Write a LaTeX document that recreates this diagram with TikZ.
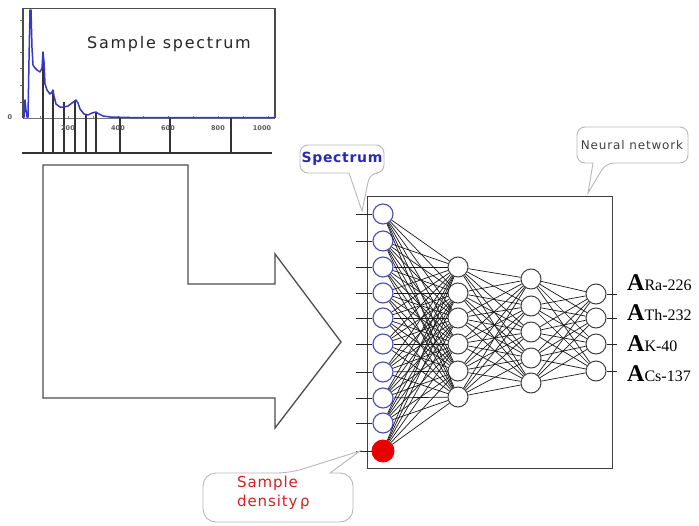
\documentclass[tikz,border=0pt]{standalone}
\usepackage{fontspec}
\setmainfont{DejaVu Sans}
\newfontfamily\lsA[LetterSpace=11]{DejaVu Sans}
\newfontfamily\lsB[LetterSpace=5]{DejaVu Sans}
\newfontfamily\lsC[LetterSpace=7]{DejaVu Sans}
\newfontfamily\lsD[LetterSpace=6]{DejaVu Sans}
\newfontfamily\serifA{Liberation Serif}
\definecolor{inblue}{HTML}{4A4AB8}
\definecolor{specblue}{HTML}{2A2AB0}
\definecolor{curveblue}{HTML}{3838C8}
\definecolor{calloutgray}{HTML}{B8B8B8}
\definecolor{redtext}{HTML}{D42020}
\definecolor{rednode}{HTML}{E80000}
\tikzset{
  inp/.style={circle, draw=inblue, fill=white, minimum size=20pt, inner sep=0pt, line width=1.1pt},
  redn/.style={circle, draw=rednode, fill=rednode, minimum size=22pt, inner sep=0pt, line width=0.9pt},
  hid/.style={circle, draw=black!75, fill=white, minimum size=20pt, inner sep=0pt, line width=1pt},
  conn/.style={draw=black!90, line width=0.7pt},
  stub/.style={draw=black!85, line width=0.9pt},
  callout/.style={draw=calloutgray, fill=white, line width=0.9pt},
  bigarrow/.style={draw=black!70, line width=1.3pt, line join=miter},
  peak/.style={draw=black!80, line width=1.1pt},
  ticklab/.style={font=\fontsize{6.5}{7}\selectfont\bfseries, text=black!65, inner sep=0pt},
  outlab/.style={anchor=base west, inner sep=0pt}
}
\begin{document}
\begin{tikzpicture}[x=1pt,y=-1pt]
\useasboundingbox (0,0) rectangle (699,525);
\fill[white] (0,0) rectangle (699,525);

% ---------- spectrum plot ----------
\draw[black!70, line width=1.1pt] (23,118) -- (23,8.5) -- (275,8.5) -- (275,118);
\draw[black!55, line width=1pt] (23,118) -- (275,118);
\foreach \yy in {20,36,52,68,85,102} \draw[black!60, line width=0.8pt] (19.5,\yy) -- (23,\yy);
\foreach \xx in {40,68,93,118,143,168,193,218,243,268} \draw[black!50, line width=0.6pt] (\xx,118) -- (\xx,115.5);
\foreach \xx/\yy in {43/52,53/90,64/102,75/100,86/115,96/113,120/118,170/118,231/118}
  \draw[peak] (\xx,\yy) -- (\xx,153);
\draw[black!80, line width=1.1pt] (22,153) -- (272,153);
\draw[curveblue, line width=1.5pt, line join=round]
  (23,118) -- (24,117) -- (25,100) -- (26,110) -- (27,117) -- (28,117) -- (29,60) -- (30,10) -- (31,10)
  -- (32,48) -- (33,65) -- (35,68) -- (37,70) -- (40,72) -- (42,68) -- (43,52) -- (44,62) -- (45,84)
  -- (47,90) -- (50,94) -- (52,92) -- (53,90) -- (54,96) -- (56,104) -- (60,107) -- (64,107) -- (68,106)
  -- (72,103) -- (76,100) -- (78,103) -- (80,109) -- (84,114) -- (88,115) -- (92,113) -- (96,112)
  -- (99,114) -- (103,116) -- (110,117) -- (130,117.5) -- (275,117.5);
\node[anchor=base, text=black!85, inner sep=0pt] (spectitle) at (169,48)
  {\lsA\fontsize{16}{19}\selectfont Sample spectrum};
\node[ticklab] (t0) at (10,117) {0};
\node[ticklab] (t200) at (68,128) {200};
\node[ticklab] (t400) at (118,128) {400};
\node[ticklab] (t600) at (168,128) {600};
\node[ticklab] (t800) at (218,128) {800};
\node[ticklab] (t1000) at (262,128) {1000};

% ---------- big arrow ----------
\draw[bigarrow] (43,165) -- (188,165) -- (188,284) -- (275,284) -- (275,254) -- (341,342)
  -- (275,428) -- (275,398) -- (43,398) -- cycle;

% ---------- network box ----------
\node[draw=black!75, line width=1.1pt, minimum width=245pt, minimum height=272pt, inner sep=0pt,
  anchor=north west] (nnbox) at (367,196) {};

% input layer
\foreach \k/\yy in {1/214,2/241,3/267,4/293,5/318,6/344,7/372,8/398,9/423}
  \node[inp] (i\k) at (383,\yy) {};
\node[redn] (i10) at (383,451) {};
% hidden 1
\foreach \k/\yy in {1/267,2/293,3/318,4/344,5/371,6/397}
  \node[hid] (h\k) at (458,\yy) {};
% hidden 2
\foreach \k/\yy in {1/279,2/306,3/332,4/358,5/383}
  \node[hid] (g\k) at (531,\yy) {};
% output
\foreach \k/\yy in {1/294,2/318,3/344,4/371}
  \node[hid] (o\k) at (596,\yy) {};

\foreach \a in {1,...,10} \foreach \b in {1,...,6} \draw[conn] (i\a) -- (h\b);
\foreach \a in {1,...,6} \foreach \b in {1,...,5} \draw[conn] (h\a) -- (g\b);
\foreach \a in {1,...,5} \foreach \b in {1,...,4} \draw[conn] (g\a) -- (o\b);

\foreach \k in {1,...,10} \draw[stub] (i\k.west) -- ++(-16,0);
\foreach \k in {1,...,4} \draw[stub] (o\k.east) -- ++(10,0);

% output labels
\node[outlab] (lra) at (627,290) {\serifA\fontsize{24}{24}\selectfont\textbf{A}\fontsize{16}{16}\selectfont Ra-226};
\node[outlab] (lth) at (627,320.5) {\serifA\fontsize{24}{24}\selectfont\textbf{A}\fontsize{16}{16}\selectfont Th-232};
\node[outlab] (lk) at (627,351) {\serifA\fontsize{24}{24}\selectfont\textbf{A}\fontsize{16}{16}\selectfont K-40};
\node[outlab] (lcs) at (627,381.5) {\serifA\fontsize{24}{24}\selectfont\textbf{A}\fontsize{16}{16}\selectfont Cs-137};

% ---------- callouts ----------
\draw[callout] (330,145) [rounded corners=8pt] -- (384,145) -- (384,173) -- (370,173)
  [sharp corners] -- (362,211) -- (349,173) [rounded corners=8pt] -- (300,173) -- (300,145) -- cycle;
\node[text=specblue, inner sep=0pt] (spec) at (342,159) {\lsB\fontsize{14}{16}\selectfont\bfseries Spectrum};

\draw[callout] (630,127) [rounded corners=8pt] -- (688,127) -- (688,163) -- (606,163)
  [sharp corners] -- (588,193) -- (593,163) [rounded corners=8pt] -- (577,163) -- (577,127) -- cycle;
\node[text=black!75, inner sep=0pt] (nn) at (632,145) {\lsC\fontsize{12}{14}\selectfont Neural network};

\draw[callout] (250,522) [rounded corners=13pt] -- (203,522) -- (203,473) -- (290,473)
  [sharp corners] -- (360,451) -- (330,473) [rounded corners=13pt] -- (353,473) -- (353,522) -- cycle;
\node[anchor=base west, text=redtext, inner sep=0pt] (sd1) at (237,487) {\lsD\fontsize{15}{18}\selectfont Sample};
\node[anchor=base west, text=redtext, inner sep=0pt] (sd2) at (237,506) {\lsD\fontsize{15}{18}\selectfont density\,ρ};
\end{tikzpicture}
\end{document}
